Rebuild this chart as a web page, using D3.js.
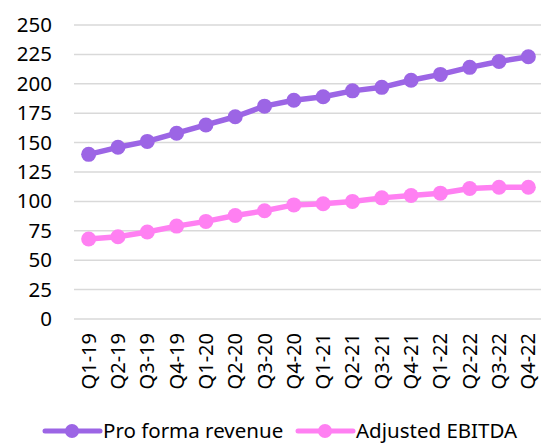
<!DOCTYPE html>
<html>
<head>
<meta charset="utf-8">
<script src="https://cdn.jsdelivr.net/npm/d3@7"></script>
<style>
  body { margin: 0; background: #fff; }
  text { font-family: "Noto Sans", "Open Sans", sans-serif; fill: #000; }
</style>
</head>
<body>
<div id="chart"></div>
<script>
// quarters on the x axis
const quarters = ["Q1-19","Q2-19","Q3-19","Q4-19","Q1-20","Q2-20","Q3-20","Q4-20",
                  "Q1-21","Q2-21","Q3-21","Q4-21","Q1-22","Q2-22","Q3-22","Q4-22"];
const revenue = [140, 146, 151, 158, 165, 172, 181, 186, 189, 194, 197, 203, 208, 214, 219, 223];
const ebitda  = [68, 70, 74, 79, 83, 88, 92, 97, 98, 100, 103, 105, 107, 111, 112, 112];
const yTicks = [0, 25, 50, 75, 100, 125, 150, 175, 200, 225, 250];

const series = [
  {name: "Pro forma revenue", values: revenue, color: "#9C65E5"},
  {name: "Adjusted EBITDA", values: ebitda, color: "#FF80F2"}
];

const W = 541, H = 443;
const margin = {top: 25, right: -2, bottom: 124, left: 74};
const width = W - margin.left - margin.right,
      height = H - margin.top - margin.bottom;

const svg = d3.select("#chart")
  .append("svg")
  .attr("width", W)
  .attr("height", H)
  .append("g")
  .attr("transform", `translate(${margin.left},${margin.top})`);

const x = d3.scaleBand().domain(quarters).range([0, width]);
const y = d3.scaleLinear().domain([0, 250]).range([height, 0]);

// gridlines
svg.append("g")
  .selectAll("line")
  .data(yTicks)
  .join("line")
  .attr("x1", 0).attr("x2", width)
  .attr("y1", d => y(d)).attr("y2", d => y(d))
  .attr("stroke", "#d9d9d9")
  .attr("stroke-width", 1.5);

// y axis labels
const yAxis = svg.append("g")
  .call(d3.axisLeft(y).tickValues(yTicks).tickSize(0).tickPadding(22));
yAxis.select(".domain").remove();
yAxis.selectAll("text")
  .style("font-size", "20.5px")
  .attr("fill", "#000");

// x axis labels, rotated
const xAxis = svg.append("g")
  .attr("transform", `translate(0,${height})`)
  .call(d3.axisBottom(x).tickSize(0).tickPadding(0));
xAxis.select(".domain").remove();
xAxis.selectAll("text")
  .style("font-size", "20px")
  .attr("fill", "#000")
  .attr("transform", "rotate(-90)")
  .attr("text-anchor", "end")
  .attr("x", -14)
  .attr("y", 0)
  .attr("dy", "0.35em");

const line = d3.line()
  .x((d, i) => x(quarters[i]) + x.bandwidth() / 2)
  .y(d => y(d));

series.forEach(s => {
  svg.append("path")
    .datum(s.values)
    .attr("fill", "none")
    .attr("stroke", s.color)
    .attr("stroke-width", 5.5)
    .attr("stroke-linejoin", "round")
    .attr("d", line);

  svg.append("g")
    .selectAll("circle")
    .data(s.values)
    .join("circle")
    .attr("cx", (d, i) => x(quarters[i]) + x.bandwidth() / 2)
    .attr("cy", d => y(d))
    .attr("r", 7.5)
    .attr("fill", s.color);
});

// legend
const legend = d3.select("svg").append("g")
  .attr("transform", `translate(0,${H - 12})`);
const legendX = [45, 298];
series.forEach((s, i) => {
  const g = legend.append("g").attr("transform", `translate(${legendX[i]},0)`);
  g.append("line")
    .attr("x1", 0).attr("x2", 55)
    .attr("stroke", s.color)
    .attr("stroke-width", 5)
    .attr("stroke-linecap", "round");
  g.append("circle")
    .attr("cx", 27).attr("r", 7)
    .attr("fill", s.color);
  g.append("text")
    .attr("x", 58)
    .attr("dy", "0.35em")
    .style("font-size", "20.5px")
    .text(s.name);
});
</script>
</body>
</html>
